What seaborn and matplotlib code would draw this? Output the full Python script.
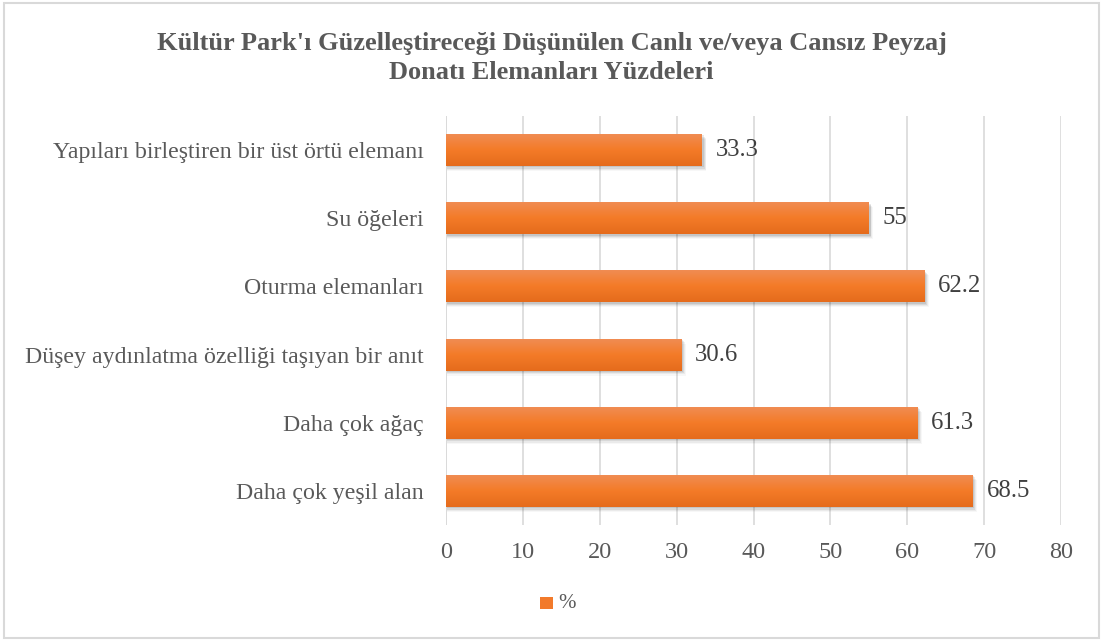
import numpy as np
import pandas as pd
import matplotlib
matplotlib.use("Agg")
import matplotlib.pyplot as plt
import seaborn as sns
from matplotlib.colors import LinearSegmentedColormap
from matplotlib.patches import Rectangle

categories = [
    "Yapıları birleştiren bir üst örtü elemanı",
    "Su öğeleri",
    "Oturma elemanları",
    "Düşey aydınlatma özelliği taşıyan bir anıt",
    "Daha çok ağaç",
    "Daha çok yeşil alan",
]
values = [33.3, 55, 62.2, 30.6, 61.3, 68.5]
value_labels = ["33.3", "55", "62.2", "30.6", "61.3", "68.5"]
x_ticks = [0, 10, 20, 30, 40, 50, 60, 70, 80]
series_name = "%"
title = "Kültür Park'ı Güzelleştireceği Düşünülen Canlı ve/veya Cansız Peyzaj\nDonatı Elemanları Yüzdeleri"

df = pd.DataFrame({"category": categories, "value": values})

sns.set_theme(style="white")
plt.rcParams["font.family"] = ["Liberation Serif", "DejaVu Serif"]

text_color = "#595959"
orange = "#ED7D31"

fig = plt.figure(figsize=(11.03, 6.41), dpi=100)
ax = fig.add_axes([446 / 1103, 1 - 525 / 641, (1061 - 446) / 1103, (525 - 116) / 641])

sns.barplot(data=df, x="value", y="category", orient="h", color=orange,
            width=0.47, ax=ax, saturation=1, zorder=3)

# vertical gradient and soft drop shadow on each bar
grad = LinearSegmentedColormap.from_list("og", ["#F08D55", "#F47B28", "#E56B1C"])
gimg = np.linspace(0, 1, 64).reshape(-1, 1)
for p in list(ax.patches):
    x0, y0 = p.get_x(), p.get_y()
    w, h = p.get_width(), p.get_height()
    for k, a in enumerate([0.09, 0.07, 0.05, 0.03]):
        off = 0.02 + 0.018 * k
        sh = Rectangle((x0 + 0.1, y0 + off), w + 0.12 * (k + 1), h,
                       facecolor="black", alpha=a, edgecolor="none", zorder=2)
        ax.add_patch(sh)
    p.set_edgecolor("none")
    im = ax.imshow(gimg, cmap=grad, aspect="auto",
                   extent=(x0, x0 + w, y0 + h, y0), zorder=4)
    im.set_clip_path(p)

ax.set_xlim(0, 80)
ax.set_ylim(5.5, -0.5)
ax.set_xticks(x_ticks)
ax.set_xticklabels([str(t) for t in x_ticks])
ax.set_xlabel("")
ax.set_ylabel("")
ax.grid(axis="x", color="#D9D9D9", linewidth=1.2, zorder=0)
ax.grid(axis="y", visible=False)
for s in ax.spines.values():
    s.set_visible(False)
ax.axvline(0, color="#D9D9D9", linewidth=1.2, zorder=1)
ax.tick_params(axis="x", length=0, pad=12, labelsize=17.5, labelcolor=text_color)
ax.tick_params(axis="y", length=0, pad=16, labelsize=17.2, labelcolor=text_color)

for i, (v, lab) in enumerate(zip(values, value_labels)):
    ax.text(v + 1.8, i, lab, va="center", ha="left", fontsize=17.8,
            color="#404040", zorder=5)

fig.text(0.5, 1 - 58 / 641, title, ha="center", va="center", fontsize=19,
         fontweight="bold", color=text_color, linespacing=1.3)

# legend at the bottom
fig.patches.append(Rectangle((540 / 1103, 1 - 609 / 641), 13 / 1103, 12 / 641,
                             transform=fig.transFigure, facecolor="#F27A2B",
                             edgecolor="none"))
fig.text(558 / 1103, 1 - 604 / 641, series_name, ha="left", va="center",
         fontsize=15, color=text_color)

# chart area border
fig.patches.append(Rectangle((0.004, 0.004), 0.992, 0.992, transform=fig.transFigure,
                             facecolor="none", edgecolor="#D9D9D9", linewidth=1.5))

fig.savefig("out.png", dpi=100, facecolor="white")
